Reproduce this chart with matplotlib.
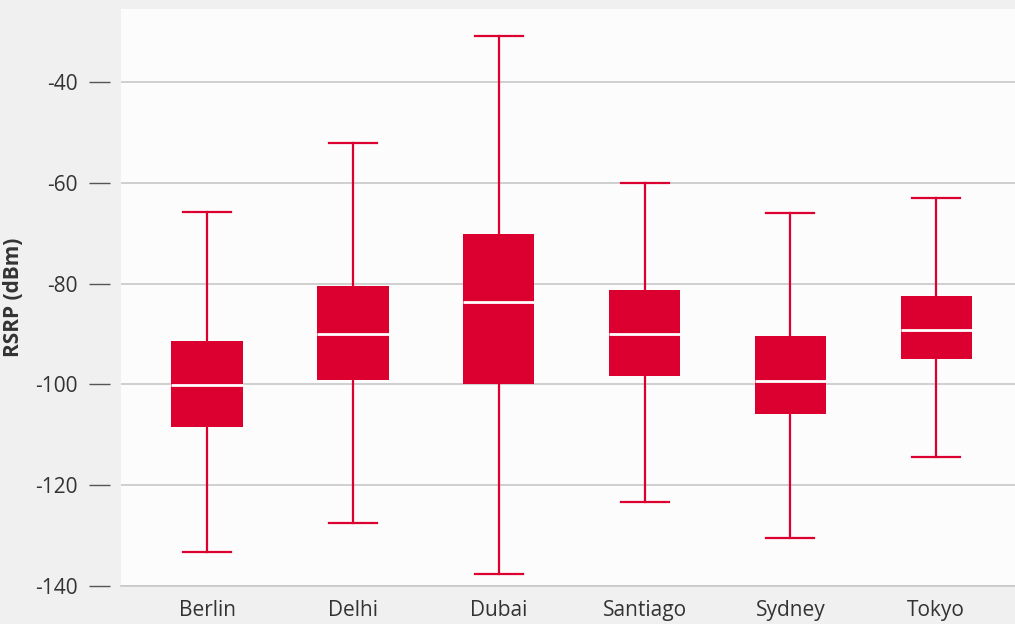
import matplotlib
matplotlib.use("Agg")
import matplotlib.pyplot as plt

plt.rcParams['font.family'] = ['Open Sans', 'DejaVu Sans']

cities = ["Berlin", "Delhi", "Dubai", "Santiago", "Sydney", "Tokyo"]
whislo = [-133.3, -127.5, -137.6, -123.3, -130.5, -114.4]
q1 = [-108.5, -99.1, -99.9, -98.3, -105.9, -95.0]
med = [-100.1, -90.0, -83.7, -90.0, -99.3, -89.2]
q3 = [-91.4, -80.5, -70.2, -81.3, -90.4, -82.5]
whishi = [-65.8, -52.1, -30.9, -60.0, -66.0, -63.0]
yticks = [-140, -120, -100, -80, -60, -40]

red = "#dc0030"
fig = plt.figure(figsize=(10.15, 6.24), dpi=100, facecolor="#f0f0f0")
ax = fig.add_axes([121/1015, 1 - 586/624, (1015-121)/1015, (586-9)/624])
ax.set_facecolor("#fcfcfc")

stats = [dict(label=c, whislo=a, q1=b, med=m, q3=d, whishi=e, fliers=[])
         for c, a, b, m, d, e in zip(cities, whislo, q1, med, q3, whishi)]
ax.bxp(stats, positions=range(1, 7), widths=0.49, patch_artist=True, showfliers=False,
       boxprops=dict(facecolor=red, edgecolor=red, linewidth=0),
       medianprops=dict(color="white", linewidth=2),
       whiskerprops=dict(color=red, linewidth=1.6),
       capprops=dict(color=red, linewidth=1.6),
       capwidths=0.33, zorder=3)

ax.set_xlim(0.41, 6.54)
ax.set_ylim(-140, -25.5)
ax.set_yticks(yticks)
ax.set_yticklabels([str(v) for v in yticks])
ax.yaxis.grid(True, color="#c8c8c8", linewidth=1.2, zorder=0)
ax.set_axisbelow(True)
for s in ["top", "right", "left"]:
    ax.spines[s].set_visible(False)
ax.spines["bottom"].set_color("#c8c8c8")
ax.spines["bottom"].set_linewidth(1.2)
ax.spines["left"].set_position(("outward", 8))
ax.tick_params(axis="y", length=15, pad=8, color="#555555", width=1, labelsize=15, labelcolor="#333333", direction="out")
ax.tick_params(axis="x", length=0, pad=10, labelsize=15, labelcolor="#333333")
ax.set_ylabel("RSRP (dBm)", fontsize=15, fontweight="bold", color="#333333")
ax.yaxis.set_label_coords(-0.1085, 0.5)

fig.savefig("out.png", dpi=100, facecolor=fig.get_facecolor())
